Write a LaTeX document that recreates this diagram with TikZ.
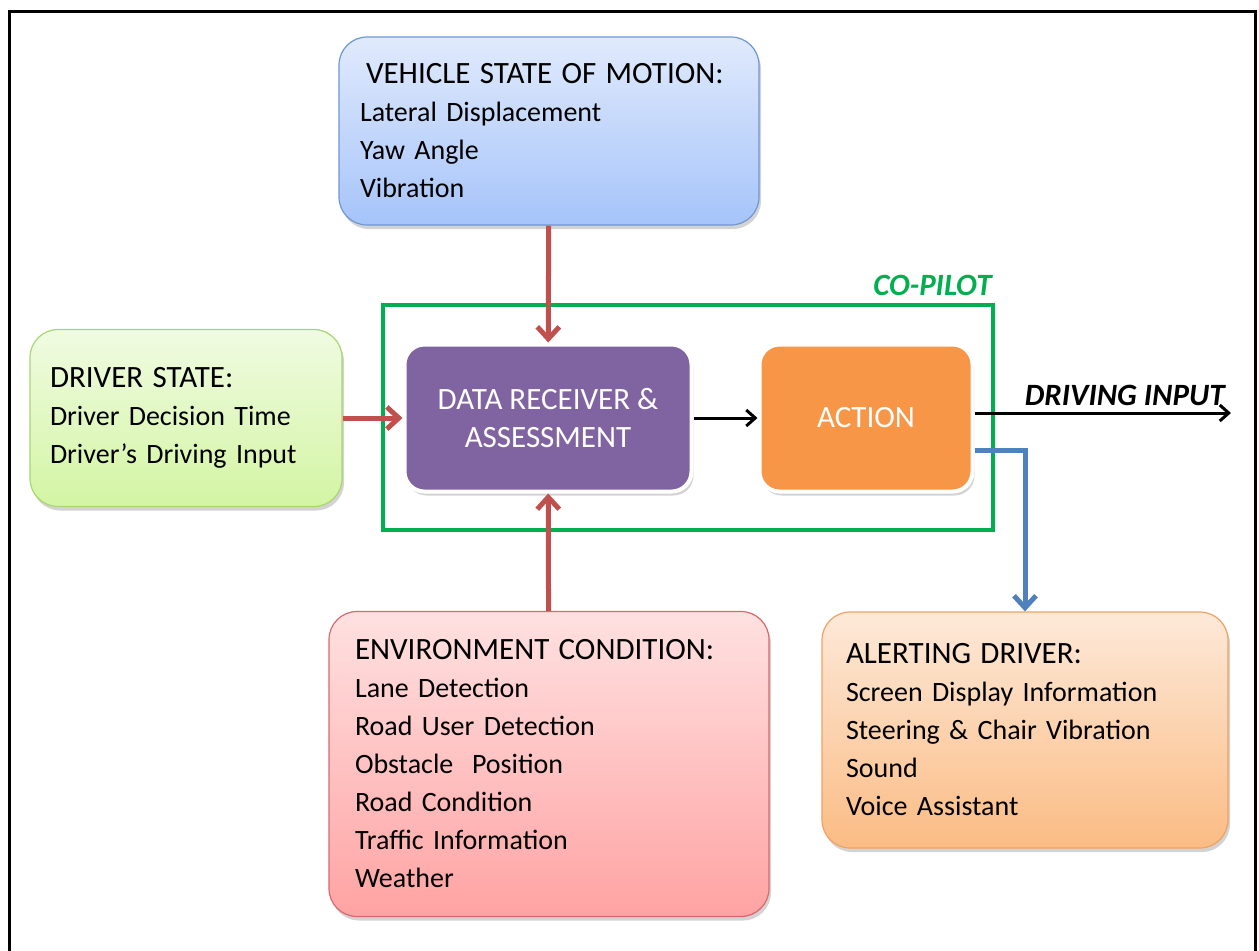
\documentclass[tikz,border=0pt]{standalone}
\usepackage{fontspec}
\setmainfont{Carlito}
\usetikzlibrary{arrows.meta,positioning,shadows}

\definecolor{vehtop}{HTML}{E0EAFC}
\definecolor{vehbot}{HTML}{A6C4FA}
\definecolor{vehline}{HTML}{7096D4}
\definecolor{drvtop}{HTML}{F0FBE2}
\definecolor{drvbot}{HTML}{D3F5A3}
\definecolor{drvline}{HTML}{A8D670}
\definecolor{envtop}{HTML}{FFE1E1}
\definecolor{envbot}{HTML}{FFA3A3}
\definecolor{envline}{HTML}{D8686C}
\definecolor{alrtop}{HTML}{FDE9D9}
\definecolor{alrbot}{HTML}{FBBC84}
\definecolor{alrline}{HTML}{F2A160}
\definecolor{assesspurple}{HTML}{8064A2}
\definecolor{actorange}{HTML}{F79646}
\definecolor{copgreen}{HTML}{00B050}
\definecolor{feedred}{HTML}{C0504D}
\definecolor{alertblue}{HTML}{4F81BD}

\newcommand{\boxtitle}[1]{{\fontsize{15.5}{19}\selectfont #1}}

\begin{document}
\begin{tikzpicture}[x=0.5pt,y=-0.5pt,>={Straight Barb[length=6pt,width=11pt]},
    info box/.style={draw,rounded corners=14pt,line width=0.6pt,align=left,inner ysep=0pt,
        font=\fontsize{14}{19}\selectfont,drop shadow={opacity=0.35,shadow xshift=1pt,shadow yshift=-2pt}},
    core box/.style={draw=white,rounded corners=10pt,line width=2pt,align=center,text=white,inner sep=0pt,
        font=\fontsize{15.5}{19}\selectfont,drop shadow={opacity=0.35,shadow xshift=1pt,shadow yshift=-2pt}},
    feed/.style={->,draw=feedred,line width=2.5pt},
    tag/.style={inner sep=0pt,font=\fontsize{15.5}{19}\selectfont\bfseries\itshape}]
    \useasboundingbox (0,0) rectangle (1259,950);
    \draw[line width=1.5pt] (9,960) -- (9,11) -- (1255,11) -- (1255,960);

    % co-pilot frame
    \node[draw=copgreen,line width=2pt,minimum width=305pt,minimum height=112.5pt] (cop) at (688,417.5) {};
    \node[tag,text=copgreen,anchor=base east] (coplabel) at ([xshift=-1.5pt,yshift=4pt]cop.north east) {CO-PILOT};

    \node[info box,top color=vehtop,bottom color=vehbot,draw=vehline,text width=189pt,inner xsep=10.5pt,minimum height=94pt] (veh) at (549,131)
        {\hspace{3pt}\boxtitle{VEHICLE STATE OF MOTION:}\\Lateral Displacement\\Yaw Angle\\Vibration};
    \node[info box,top color=drvtop,bottom color=drvbot,draw=drvline,text width=136pt,inner xsep=10pt,minimum height=88.5pt] (drv) at (186,418)
        {\boxtitle{DRIVER STATE:}\\Driver Decision Time\\Driver’s Driving Input};
    \node[core box,fill=assesspurple,minimum width=143.5pt,minimum height=73.5pt] (data) at (548,418) {DATA RECEIVER \&\\ASSESSMENT};
    \node[core box,fill=actorange,minimum width=106.5pt,minimum height=73.5pt,right=32pt of data] (act) {ACTION};
    \node[info box,top color=envtop,bottom color=envbot,draw=envline,text width=194pt,inner xsep=13pt,minimum height=152.5pt] (env) at (549,764)
        {\boxtitle{ENVIRONMENT CONDITION:}\\Lane Detection\\Road User Detection\\Obstacle\ \ Position\\Road Condition\\Traffic Information\\Weather};
    \node[info box,top color=alrtop,bottom color=alrbot,draw=alrline,text width=179pt,inner xsep=12pt,minimum height=118pt] (alert) at (1025,730)
        {\boxtitle{ALERTING DRIVER:}\\Screen Display Information\\Steering \& Chair Vibration\\Sound\\Voice Assistant};

    \coordinate (drvout) at (1231,413);
    \node[tag,anchor=base east] (drvlabel) at ([xshift=-3pt,yshift=4pt]drvout) {DRIVING INPUT};

    \path[feed]
        (veh) edge (data)
        (env) edge (data)
        (drv) edge (data);
    \path[->,line width=1.5pt,>={Straight Barb[length=4.5pt,width=8pt]}]
        (data) edge (act)
        ([yshift=2.5pt]act.east) edge (drvout);
    \draw[->,draw=alertblue,line width=2.5pt] ([yshift=-16pt]act.east) -| (alert.north);
\end{tikzpicture}
\end{document}
